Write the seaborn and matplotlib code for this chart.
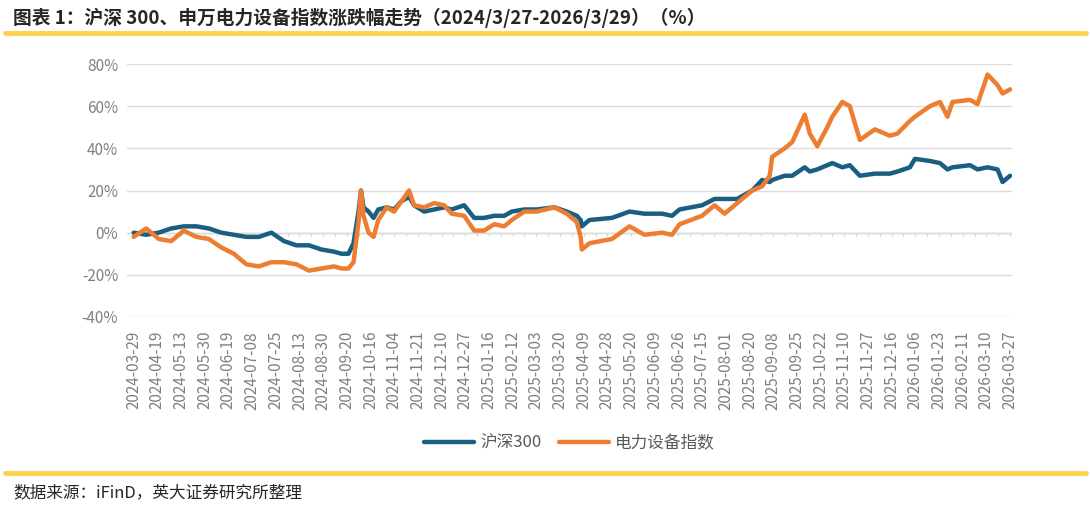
import numpy as np
import pandas as pd
import matplotlib
matplotlib.use("Agg")
import matplotlib.pyplot as plt
import seaborn as sns

tick_labels = ["2024-03-29","2024-04-19","2024-05-13","2024-05-30","2024-06-19","2024-07-08",
"2024-07-25","2024-08-13","2024-08-30","2024-09-20","2024-10-16","2024-11-04","2024-11-21",
"2024-12-10","2024-12-27","2025-01-16","2025-02-12","2025-03-03","2025-03-20","2025-04-09",
"2025-04-28","2025-05-20","2025-06-09","2025-06-26","2025-07-15","2025-08-01","2025-08-20",
"2025-09-08","2025-09-25","2025-10-22","2025-11-10","2025-11-27","2025-12-16","2026-01-06",
"2026-01-23","2026-02-11","2026-03-10","2026-03-27"]

# position, in units of 1/35 of the plotted span
pos_read = [0,0.5,1,1.5,2,2.5,3,3.5,4,4.5,5,5.5,6,6.5,7,7.5,8,8.3,8.58,8.78,8.98,9.08,9.18,9.38,9.58,9.77,
       10.1,10.4,10.7,11.0,11.2,11.6,12.0,12.4,12.7,13.2,13.6,14.0,14.4,14.8,15.1,15.6,16.1,16.8,17.3,
       17.7,17.85,17.9,18.2,19.1,19.8,20.4,21.1,21.5,21.8,22.7,23.2,23.6,24.1,24.7,25.1,25.4,25.5,26.0,
       26.3,26.8,27.0,27.3,27.7,27.9,28.3,28.6,29.0,29.6,30.2,30.5,31.0,31.2,31.8,32.2,32.5,32.7,33.4,
       33.7,34.1,34.5,34.7,35.0]
hs300 = [0,-1,0,2,3,3,2,0,-1,-2,-2,0,-4,-6,-6,-8,-9,-10,-10,-5,10,20,12,10,7,11,
         12,11,15,17,13,10,11,12,11,13,7,7,8,8,10,11,11,12,10,
         8,6,3,6,7,10,9,9,8,11,13,16,16,16,20,25,24,25,27,
         27,31,29,30,32,33,31,32,27,28,28,29,31,35,34,33,30,31,32,
         30,31,30,24,27]
power = [-2,2,-3,-4,1,-2,-3,-7,-10,-15,-16,-14,-14,-15,-18,-17,-16,-17,-17,-14,5,20,8,0,-2,6,
         12,10,15,20,13,12,14,13,9,8,1,1,4,3,6,10,10,12,9,
         5,-2,-8,-5,-3,3,-1,0,-1,4,8,13,9,14,20,22,27,36,40,
         43,56,47,41,50,55,62,60,44,49,46,47,53,55,60,62,55,62,63,
         61,75,70,66,68]

n_int = len(tick_labels) - 1
pos = [p * n_int / 35.0 for p in pos_read]

df = pd.DataFrame({"pos": pos * 2, "val": hs300 + power,
                   "series": ["沪深300"] * len(pos) + ["电力设备指数"] * len(pos)})

sns.set_theme(style="white")
plt.rcParams['font.family'] = ['Noto Sans CJK SC', 'DejaVu Sans']

fig = plt.figure(figsize=(10.91, 5.08), dpi=100)
ax = fig.add_axes([0.116, 0.376, 0.812, 0.498])
sns.lineplot(data=df, x="pos", y="val", hue="series", ax=ax,
             palette={"沪深300": "#1a5f82", "电力设备指数": "#ed7d31"}, linewidth=3.2)
ax.set_ylim(-40, 80)
ax.set_xlim(-0.3, n_int + 0.1)
ax.set_yticks([-40, -20, 0, 20, 40, 60, 80])
ax.set_yticklabels([f"{v}%" for v in [-40, -20, 0, 20, 40, 60, 80]], color="#808080", fontsize=11)
ax.yaxis.grid(True, color="#dcdcdc", linewidth=1)
ax.set_axisbelow(True)
ticks = np.arange(len(tick_labels))
ax.set_xticks(ticks)
ax.set_xticklabels(tick_labels, rotation=90, color="#808080", fontsize=11)
ax.tick_params(axis="both", length=0, pad=6)
ax.tick_params(axis="x", pad=10)
for s in ax.spines.values():
    s.set_visible(False)
ax.axhline(0, color="#d0d0d0", linewidth=1, zorder=0)
minor = np.arange(0, n_int + 0.01, 0.5)
ax.vlines(minor, -1.8, 0, color="#d0d0d0", linewidth=0.8, zorder=0)
ax.set_xlabel("")
ax.set_ylabel("")
leg = ax.legend(loc="center", bbox_to_anchor=(0.5, -0.5), ncol=2, frameon=False,
                fontsize=12, handlelength=3, columnspacing=1.0, handletextpad=0.4)
for t in leg.get_texts():
    t.set_color("#595959")

fig.text(0.012, 0.965, "图表 1：沪深 300、申万电力设备指数涨跌幅走势（2024/3/27-2026/3/29）（%）",
         fontsize=13.5, fontweight="bold", va="center", ha="left")
fig.add_artist(plt.Line2D([0.005, 0.995], [0.935, 0.935], color="#ffd24d", linewidth=3.5))
fig.add_artist(plt.Line2D([0.005, 0.995], [0.068, 0.068], color="#ffd24d", linewidth=3.5))
fig.text(0.012, 0.03, "数据来源：iFinD，英大证券研究所整理", fontsize=12, va="center", ha="left")

fig.savefig("out.png", dpi=100)
